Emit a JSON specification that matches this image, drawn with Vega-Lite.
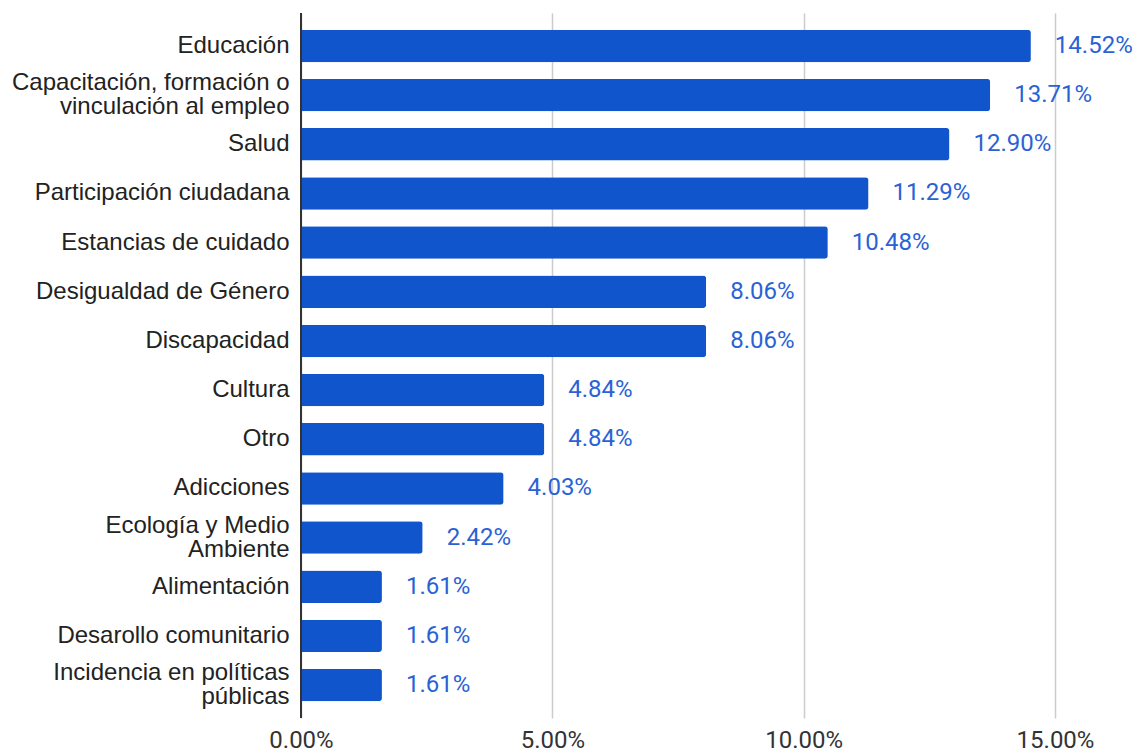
{
  "$schema": "https://vega.github.io/schema/vega-lite/v6.json",
  "autosize": "none",
  "width": 754,
  "height": 705,
  "padding": {"left": 301, "top": 13, "right": 79, "bottom": 35},
  "background": "white",
  "config": {"view": {"stroke": null}, "font": "Roboto"},
  "data": {"values": [
    {"category": "Educación", "value": 0.1452},
    {"category": "Capacitación, formación o vinculación al empleo", "value": 0.1371},
    {"category": "Salud", "value": 0.1290},
    {"category": "Participación ciudadana", "value": 0.1129},
    {"category": "Estancias de cuidado", "value": 0.1048},
    {"category": "Desigualdad de Género", "value": 0.0806},
    {"category": "Discapacidad", "value": 0.0806},
    {"category": "Cultura", "value": 0.0484},
    {"category": "Otro", "value": 0.0484},
    {"category": "Adicciones", "value": 0.0403},
    {"category": "Ecología y Medio Ambiente", "value": 0.0242},
    {"category": "Alimentación", "value": 0.0161},
    {"category": "Desarollo comunitario", "value": 0.0161},
    {"category": "Incidencia en políticas públicas", "value": 0.0161}
  ]},
  "encoding": {
    "y": {
      "field": "category", "type": "nominal", "sort": null,
      "scale": {"paddingInner": 0.34, "paddingOuter": 0.34},
      "axis": {
        "title": null, "ticks": false, "labelPadding": 12, "labelFontSize": 24,
        "labelFont": "Liberation Sans",
        "labelColor": "#222222", "labelLineHeight": 24, "labelLimit": 310,
        "domain": false,
        "labelOffset": {"condition": {"test": "datum.value == 'Capacitación, formación o vinculación al empleo' || datum.value == 'Ecología y Medio Ambiente' || datum.value == 'Incidencia en políticas públicas'", "value": -12}, "value": 0},
        "labelExpr": "datum.value == 'Capacitación, formación o vinculación al empleo' ? ['Capacitación, formación o', 'vinculación al empleo'] : datum.value == 'Ecología y Medio Ambiente' ? ['Ecología y Medio', 'Ambiente'] : datum.value == 'Incidencia en políticas públicas' ? ['Incidencia en políticas', 'públicas'] : datum.label"
      }
    },
    "x": {
      "field": "value", "type": "quantitative",
      "scale": {"domain": [0, 0.15], "nice": false},
      "axis": {
        "title": null, "format": ".2%", "values": [0, 0.05, 0.1, 0.15],
        "ticks": false, "domain": false, "labelPadding": 10, "labelFontSize": 24,
        "labelFlush": false, "labelFont": "Roboto",
        "labelColor": "#333333", "gridColor": "#cccccc", "gridWidth": 1.5
      }
    }
  },
  "layer": [
    {"mark": {"type": "bar", "color": "#1155cc", "cornerRadiusEnd": 3}},
    {
      "mark": {"type": "rule", "color": "#333333", "strokeWidth": 1.5},
      "encoding": {"x": {"datum": 0}, "y": null}
    },
    {
      "mark": {"type": "text", "align": "left", "baseline": "middle", "dx": 24, "fontSize": 24, "font": "Roboto", "color": "#2a62d6"},
      "encoding": {"text": {"field": "value", "type": "quantitative", "format": ".2%"}}
    }
  ]
}
